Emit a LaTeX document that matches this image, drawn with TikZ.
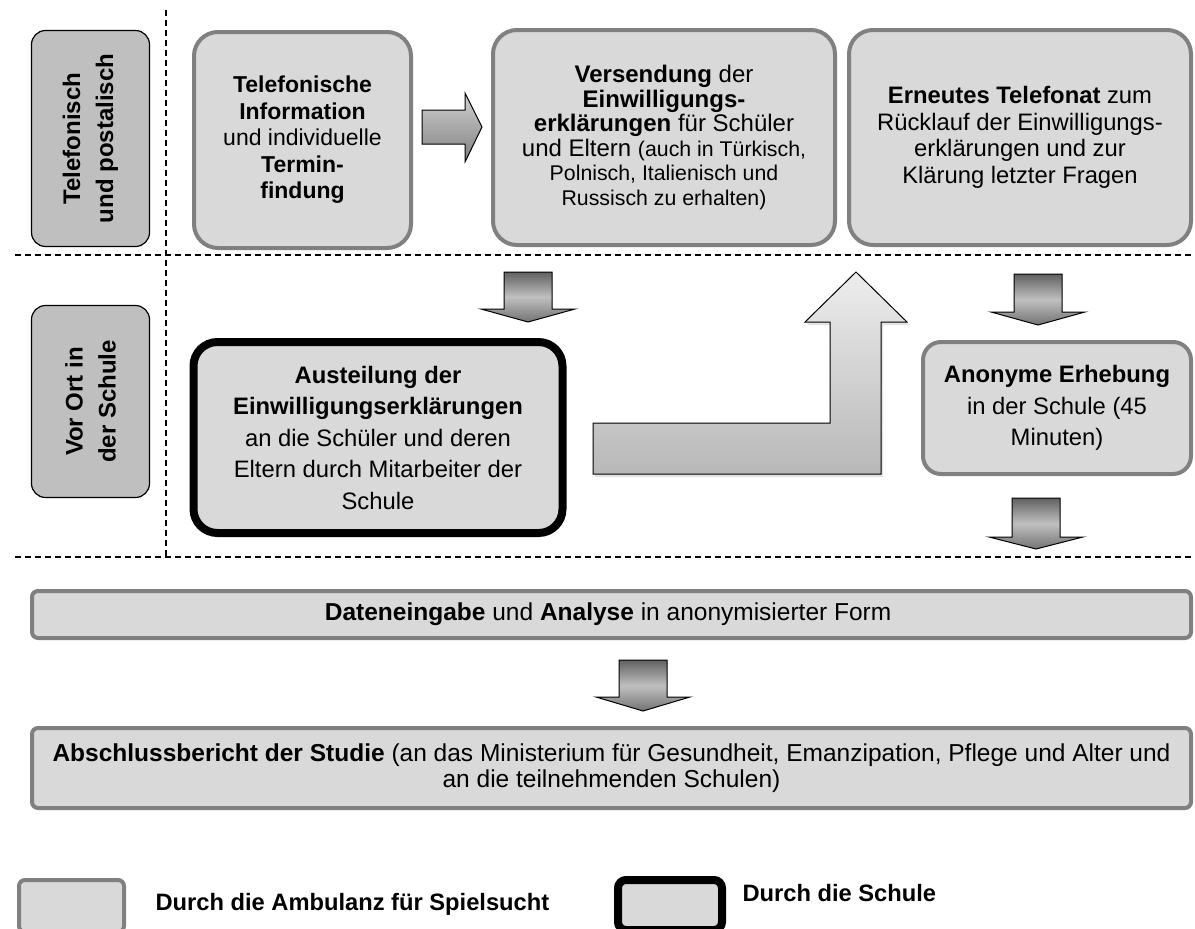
\documentclass[tikz,border=0pt]{standalone}
\usepackage{fontspec}
\setmainfont{Liberation Sans}
\usepackage{tikz}
\usetikzlibrary{positioning, shadows}

\tikzset{
  lane/.style={draw=black, line width=1.2pt, fill=black!25, rounded corners=14pt, rotate=90, align=center, font=\bfseries\fontsize{24}{33}\selectfont},
  ambbox/.style={draw=black!50, line width=4pt, fill=black!15, rounded corners=24pt, align=center, font=\fontsize{23.8}{26.5}\selectfont},
  schoolbox/.style={draw=black, line width=8pt, fill=black!15, rounded corners=24pt, align=center, font=\fontsize{23.8}{31.5}\selectfont},
  widebox/.style={draw=black!50, line width=4pt, fill=black!15, rounded corners=6pt, align=center, font=\fontsize{24.5}{26.5}\selectfont},
  downarrow/.style={draw=black, line width=1pt, top color=black!62, bottom color=black!55, middle color=black!25},
  sidearrow/.style={draw=black, line width=1pt, top color=black!18, bottom color=black!50},
  sep/.style={dash pattern=on 6pt off 4pt, line width=1.3pt},
  legendtext/.style={font=\bfseries\fontsize{23.7}{26}\selectfont},
}

\begin{document}
\begin{tikzpicture}[x=1pt, y=-1pt]
  \useasboundingbox (0,0) rectangle (1195,929);

  % Lanes
  \draw[sep] (15,255) -- (1195,255);
  \draw[sep] (15,557) -- (1195,557);
  \draw[sep] (166,10) -- (166,557);

  \node[lane, minimum width=216pt, minimum height=118pt] (lanetel) at (90.5,138.5) {Telefonisch\\und postalisch};
  \node[lane, minimum width=192pt, minimum height=118pt] (laneort) at (90.5,401.5) {Vor Ort in\\der Schule};

  % Telefonisch und postalisch
  \node[ambbox, font=\fontsize{23}{26.5}\selectfont, minimum width=217pt, minimum height=216pt] (info) at (302.5,140) {
    \textbf{Telefonische}\\\textbf{Information}\\und individuelle\\\textbf{Termin-}\\\textbf{findung}
  };
  \node[ambbox, font=\fontsize{24}{24.5}\selectfont, minimum width=342pt, minimum height=215pt] (versand) at (664,137.5) {
    \textbf{Versendung} der\\\textbf{Einwilligungs-}\\\textbf{erklärungen} für Schüler\\
    und Eltern {\fontsize{21.3}{24.5}\selectfont (auch in Türkisch,}\\
    {\fontsize{21.3}{24.5}\selectfont Polnisch, Italienisch und}\\
    {\fontsize{21.3}{24.5}\selectfont Russisch zu erhalten)}
  };
  \node[ambbox, minimum width=342pt, minimum height=215pt] (telefonat) at (1020,137.5) {
    \textbf{Erneutes Telefonat} zum\\Rücklauf der Einwilligungs-\\erklärungen und zur\\Klärung letzter Fragen
  };

  % Vor Ort in der Schule
  \node[schoolbox, minimum width=369pt, minimum height=191pt] (austeil) at (378,437.5) {
    \textbf{Austeilung der}\\\textbf{Einwilligungserklärungen}\\an die Schüler und deren\\Eltern durch Mitarbeiter der\\Schule
  };
  \node[ambbox, rounded corners=18pt, font=\fontsize{23.8}{31.5}\selectfont, minimum width=268pt, minimum height=132pt] (erhebung) at (1057,408) {
    \textbf{Anonyme Erhebung}\\in der Schule (45\\Minuten)
  };

  % Auswertung
  \node[widebox, minimum width=1159pt, minimum height=47pt] (eingabe) at (611.5,614.5) {
    \textbf{Dateneingabe} und \textbf{Analyse} in anonymisierter Form
  };
  \node[widebox, minimum width=1159pt, minimum height=80pt] (bericht) at (611.5,768) {
    \textbf{Abschlussbericht der Studie} (an das Ministerium für Gesundheit, Emanzipation, Pflege und Alter und\\
    an die teilnehmenden Schulen)
  };

  % Block arrows
  \draw[sidearrow] (422,110) -- (465,110) -- (465,93) -- (482,127) -- (465,162) -- (465,144) -- (422,144) -- cycle;
  \draw[downarrow] (504,272) -- (552,272) -- (552,309) -- (575,309) -- (528,322) -- (481,309) -- (504,309) -- cycle;
  \draw[downarrow] (1014,274) -- (1062,274) -- (1062,312) -- (1085,312) -- (1038,325) -- (991,312) -- (1014,312) -- cycle;
  \draw[downarrow] (1012,498) -- (1060,498) -- (1060,537) -- (1083,537) -- (1036,549) -- (989,537) -- (1012,537) -- cycle;
  \draw[downarrow] (619,660) -- (667,660) -- (667,697) -- (690,697) -- (643,711) -- (596,697) -- (619,697) -- cycle;
  \draw[draw=black, line width=1pt, top color=black!7, bottom color=black!28, drop shadow={shadow xshift=2pt, shadow yshift=-3pt, fill=black!22}]
    (593,423) -- (830,423) -- (830,322) -- (805,322) -- (856,272) -- (907,322) -- (881,322) -- (881,474) -- (593,474) -- cycle;

  % Legend
  \node[widebox, minimum width=105pt, minimum height=52pt] (legamb) at (71.5,906) {};
  \node[schoolbox, rounded corners=8pt, minimum width=104pt, minimum height=50pt] (legschule) at (670,905) {};
  \node[legendtext, right=26pt of legamb, yshift=2pt] (legambtext) {Durch die Ambulanz für Spielsucht};
  \node[legendtext, right=13pt of legschule, yshift=12pt] (legschuletext) {Durch die Schule};
\end{tikzpicture}
\end{document}
